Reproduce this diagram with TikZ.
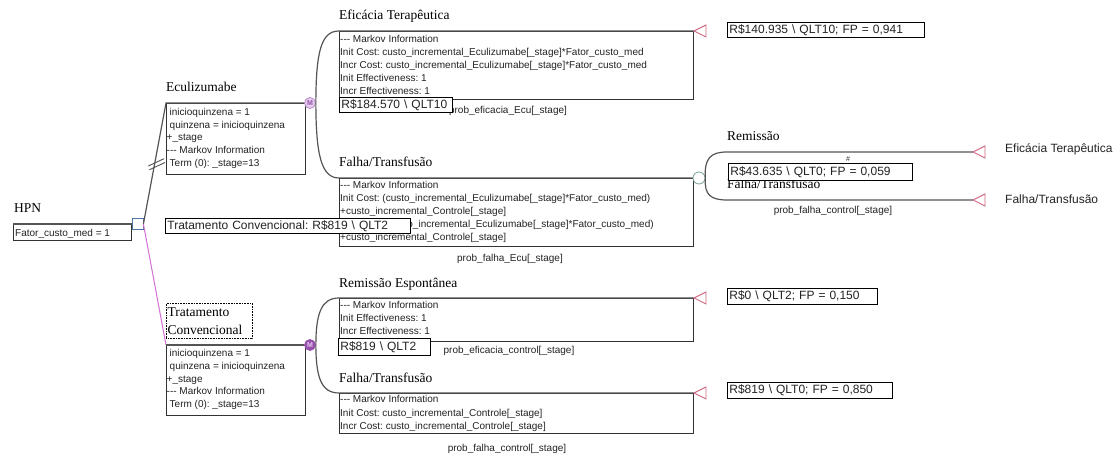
\documentclass[tikz,border=0pt]{standalone}
\usepackage{fontspec}
\setmainfont{Liberation Serif}
\setsansfont{Liberation Sans}
\frenchspacing
\definecolor{linegray}{RGB}{85,85,85}
\definecolor{boxline}{RGB}{50,50,50}
\definecolor{txt}{RGB}{35,35,35}
\definecolor{termpink}{RGB}{205,105,130}
\definecolor{decblue}{RGB}{80,115,165}
\definecolor{chancegrn}{RGB}{120,165,150}
\definecolor{mlav}{RGB}{228,205,238}
\definecolor{mpurp}{RGB}{150,80,172}
\definecolor{magline}{RGB}{212,112,212}
\tikzset{
  branch/.style={draw=linegray, line width=1.2pt},
  magbranch/.style={draw=magline, line width=1pt},
  infobox/.style={draw=boxline, line width=0.8pt, anchor=north west, inner sep=0pt},
  small/.style={font=\sffamily\fontsize{10}{13}\selectfont, text=txt, align=left, inner sep=0pt},
  smallecu/.style={font=\sffamily\fontsize{10}{12.75}\selectfont, text=txt, align=left, inner sep=0pt},
  prob/.style={font=\sffamily\fontsize{10}{12}\selectfont, text=txt, inner sep=0pt, anchor=base},
  lbl/.style={font=\fontsize{13.5}{18}\selectfont, text=black, inner sep=0pt, anchor=base west},
  rlbl/.style={font=\sffamily\fontsize{12}{14}\selectfont, text=txt, inner sep=0pt, anchor=base west},
  valbox/.style={draw=black, line width=0.8pt, fill=white, anchor=north west, inner xsep=2pt, inner ysep=0pt,
                 align=left, font=\sffamily\fontsize{12}{14}\selectfont, text=txt},
  decision/.style={draw=decblue, fill=white, line width=0.8pt, minimum size=11pt, inner sep=0pt},
  chance/.style={circle, draw=chancegrn, fill=white, line width=0.8pt, minimum size=12pt, inner sep=0pt},
  markovA/.style={circle, draw=mpurp!70, fill=mlav, line width=0.7pt, minimum size=11pt, inner sep=0pt,
                  text=mpurp, font=\sffamily\bfseries\fontsize{7}{7}\selectfont},
  markovB/.style={circle, draw=mpurp, fill=mpurp, line width=0.7pt, minimum size=11pt, inner sep=0pt,
                  text=mlav, font=\sffamily\bfseries\fontsize{7}{7}\selectfont},
  term/.style={draw=termpink, line width=0.9pt, fill=white},
  hashmark/.style={draw=linegray, line width=0.9pt}
}
\begin{document}
\begin{tikzpicture}[x=1pt,y=-1pt]
\useasboundingbox (0,0) rectangle (1120,454);
\fill[white] (0,0) rectangle (1120,454);

% ---------- root ----------
\node[lbl] (hpnL) at (14,213) {HPN};
\node[infobox, minimum width=118pt, minimum height=16pt] (hpnBox) at (13,224) {};
\node[small, anchor=base west] (hpnT) at (15,236.3) {Fator\_custo\_med = 1};
\node[decision] (dec) at (137.5,224) {};
\draw[branch] (hpnBox.north west) -- (dec.west);

% ---------- Eculizumabe ----------
\node[lbl] (ecuL) at (166,92) {Eculizumabe};
\node[infobox, minimum width=139pt, minimum height=71pt] (ecuBox) at (166,103) {};
\node[smallecu, anchor=north west] (ecuT) at (166.5,108) {\hspace*{3pt}inicioquinzena = 1\\
\hspace*{3pt}quinzena = inicioquinzena\\
+\_stage\\
-{}-{}- Markov Information\\
\hspace*{3pt}Term (0): \_stage=13};
\node[markovA] (mEcu) at (310,103) {M};
\draw[branch] (dec.east) -- (ecuBox.north west) -- (mEcu.west);
\draw[hashmark] (148.3,166) -- (164,158.7);
\draw[hashmark] (149.3,169.8) -- (165,162.5);

% ---------- Eficacia (Ecu) ----------
\node[lbl] (efL) at (339,19.5) {Eficácia Terapêutica};
\node[infobox, minimum width=354pt, minimum height=68pt] (efBox) at (339,31) {};
\node[small, anchor=north west] (efT) at (340,34.7) {-{}-{}- Markov Information\\
Init Cost: custo\_incremental\_Eculizumabe[\_stage]*Fator\_custo\_med\\
Incr Cost: custo\_incremental\_Eculizumabe[\_stage]*Fator\_custo\_med\\
Init Effectiveness: 1\\
Incr Effectiveness: 1};
\node[prob] (efP) at (508,113.6) {prob\_eficacia\_Ecu[\_stage]};
\coordinate (t1) at (694,31);
\draw[branch] (mEcu.east) .. controls (316,52) and (321,31) .. (efBox.north west) -- (t1);
\draw[term] (t1) -- ++(12,-6) -- ++(0,12) -- cycle;

% ---------- Falha (Ecu) ----------
\node[lbl] (fuL) at (339,166.5) {Falha/Transfusão};
\node[infobox, minimum width=354pt, minimum height=68pt] (fuBox) at (339,178) {};
\node[small, anchor=north west] (fuT) at (340,180.7) {-{}-{}- Markov Information\\
Init Cost: (custo\_incremental\_Eculizumabe[\_stage]*Fator\_custo\_med)\\
+custo\_incremental\_Controle[\_stage]\\
Incr Cost: (custo\_incremental\_Eculizumabe[\_stage]*Fator\_custo\_med)\\
+custo\_incremental\_Controle[\_stage]};
\node[prob] (fuP) at (510,261.9) {prob\_falha\_Ecu[\_stage]};
\node[chance] (ch) at (699,178) {};
\draw[branch] (mEcu.east) .. controls (316,154) and (321,178) .. (fuBox.north west) -- (ch.west);

% ---------- chance branches ----------
\node[lbl] (remL) at (727,140.5) {Remissão};
\node[font=\sffamily\fontsize{7}{8}\selectfont, text=txt, inner sep=0pt] (hashL) at (848,159) {\#};
\node[lbl] (fu2L) at (727,188.5) {Falha/Transfusão};
\node[prob] (fu2P) at (833,213.6) {prob\_falha\_control[\_stage]};
\coordinate (remC) at (727,152);
\coordinate (fu2C) at (727,200);
\coordinate (t5) at (973,152);
\coordinate (t6) at (973,200);
\draw[branch] (ch.east) .. controls (704,158) and (711,152) .. (remC) -- (t5);
\draw[branch] (ch.east) .. controls (704,195) and (711,200) .. (fu2C) -- (t6);
\draw[term] (t5) -- ++(12,-6) -- ++(0,12) -- cycle;
\draw[term] (t6) -- ++(12,-6) -- ++(0,12) -- cycle;
\node[rlbl] (efR) at (1005,153) {Eficácia Terapêutica};
\node[rlbl] (fuR) at (1005,203.5) {Falha/Transfusão};

% ---------- Tratamento Convencional ----------
\node[font=\fontsize{13.5}{18}\selectfont, text=black, draw=black, line width=0.6pt, dash pattern=on 0.8pt off 0.8pt,
      anchor=north west, inner xsep=1.2pt, inner ysep=4pt, text width=84pt, align=left] (tcL) at (166,303.3) {Tratamento\\Convencional};
\node[infobox, minimum width=139pt, minimum height=70pt] (tcBox) at (166,345) {};
\node[smallecu, anchor=north west] (tcT) at (166.5,349.1) {\hspace*{3pt}inicioquinzena = 1\\
\hspace*{3pt}quinzena = inicioquinzena\\
+\_stage\\
-{}-{}- Markov Information\\
\hspace*{3pt}Term (0): \_stage=13};
\node[markovB] (mTC) at (310,345) {M};
\draw[magbranch] (dec.east) -- (tcBox.north west);
\draw[branch] (tcBox.north west) -- (mTC.west);

% ---------- Remissao Espontanea ----------
\node[lbl] (reL) at (339,287.5) {Remissão Espontânea};
\node[infobox, minimum width=354pt, minimum height=43pt] (reBox) at (339,298) {};
\node[small, anchor=north west, font=\sffamily\fontsize{10}{13.3}\selectfont] (reT) at (340,300.7) {-{}-{}- Markov Information\\
Init Effectiveness: 1\\
Incr Effectiveness: 1};
\node[prob] (reP) at (509,353.6) {prob\_eficacia\_control[\_stage]};
\coordinate (t2) at (694,298);
\draw[branch] (mTC.east) .. controls (316,314) and (321,298) .. (reBox.north west) -- (t2);
\draw[term] (t2) -- ++(12,-6) -- ++(0,12) -- cycle;

% ---------- Falha (Controle) ----------
\node[lbl] (fcL) at (339,383) {Falha/Transfusão};
\node[infobox, minimum width=354pt, minimum height=40pt] (fcBox) at (339,393) {};
\node[small, anchor=north west, font=\sffamily\fontsize{10}{13.3}\selectfont] (fcT) at (340,395.4) {-{}-{}- Markov Information\\
Init Cost: custo\_incremental\_Controle[\_stage]\\
Incr Cost: custo\_incremental\_Controle[\_stage]};
\node[prob] (fcP) at (507,451.4) {prob\_falha\_control[\_stage]};
\coordinate (t3) at (694,393);
\draw[branch] (mTC.east) .. controls (316,377) and (321,393) .. (fcBox.north west) -- (t3);
\draw[term] (t3) -- ++(12,-6) -- ++(0,12) -- cycle;

% ---------- value boxes (on top) ----------
\node[valbox, minimum width=113pt, minimum height=15pt, text width=109pt] (vEcu) at (339,97) {R\$184.570 \textbackslash\ QLT10};
\node[valbox, minimum width=245pt, minimum height=15pt, text width=241pt] (vTC) at (165,218) {Tratamento Convencional: R\$819 \textbackslash\ QLT2};
\node[valbox, minimum width=197pt, minimum height=15pt, text width=193pt] (v1) at (727,22) {R\$140.935 \textbackslash\ QLT10; FP = 0,941};
\node[valbox, minimum width=184pt, minimum height=17pt, text width=180pt] (v2) at (728,163) {R\$43.635 \textbackslash\ QLT0; FP = 0,059};
\node[valbox, minimum width=92pt, minimum height=17pt, text width=88pt] (vC) at (338,338) {R\$819 \textbackslash\ QLT2};
\node[valbox, minimum width=150pt, minimum height=16pt, text width=146pt] (v3) at (727,288) {R\$0 \textbackslash\ QLT2; FP = 0,150};
\node[valbox, minimum width=165pt, minimum height=16pt, text width=161pt] (v4) at (727,382) {R\$819 \textbackslash\ QLT0; FP = 0,850};
\end{tikzpicture}
\end{document}
